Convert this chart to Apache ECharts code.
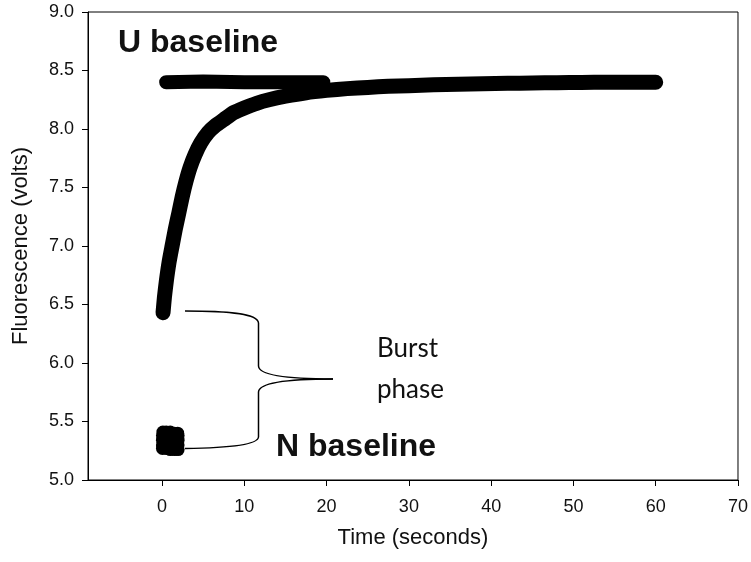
<!DOCTYPE html>
<html>
<head>
<meta charset="utf-8">
<script src="https://cdn.jsdelivr.net/npm/echarts@6/dist/echarts.min.js"></script>
<style>html,body{margin:0;padding:0;background:#fff}#c{width:751px;height:562px}</style>
</head>
<body>
<div id="c"></div>
<script>
// Refolding trace (seconds, volts)
const curveX = [0.12, 0.30, 0.54, 0.85, 1.22, 1.60, 2.03, 2.45, 2.90, 3.40, 4.00, 4.70, 5.60, 6.50, 7.50, 8.70, 10.0, 11.5, 13.0, 15.0, 17.5, 20.0, 22.5, 25.0, 27.5, 30.0, 33.0, 36.0, 39.0, 42.0, 45.0, 48.0, 51.0, 54.0, 57.0, 60.0];
const curveY = [6.43, 6.57, 6.71, 6.86, 7.00, 7.14, 7.28, 7.42, 7.55, 7.67, 7.78, 7.88, 7.97, 8.03, 8.08, 8.14, 8.18, 8.22, 8.25, 8.28, 8.31, 8.33, 8.345, 8.355, 8.365, 8.37, 8.378, 8.383, 8.387, 8.39, 8.393, 8.396, 8.398, 8.40, 8.40, 8.40];
// Unfolded baseline
const uBaseX = [0.5, 5.0, 10.0, 15.0, 19.6];
const uBaseY = [8.40, 8.405, 8.40, 8.40, 8.40];
// Native baseline cluster
const nBaseX = [0.05, 0.5, 1.0, 1.5, 1.95, 0.05, 0.5, 1.0, 1.5, 1.95, 0.05, 0.5, 1.0, 1.5, 1.95, 0.05, 0.5, 1.0, 1.5, 1.95, 0.1, 0.5, 1.0, 1.5, 1.9];
const nBaseY = [5.27, 5.27, 5.26, 5.26, 5.26, 5.30, 5.30, 5.30, 5.30, 5.30, 5.34, 5.34, 5.34, 5.34, 5.34, 5.38, 5.38, 5.38, 5.38, 5.38, 5.41, 5.41, 5.41, 5.40, 5.40];
const xTicks = [0, 10, 20, 30, 40, 50, 60, 70];
const labels = { u: 'U baseline', n: 'N baseline', burst1: 'Burst', burst2: 'phase', xName: 'Time (seconds)', yName: 'Fluorescence (volts)' };

const zip = (a, b) => a.map((v, i) => [v, b[i]]);
const font = "'Liberation Sans', Arial, sans-serif";
const braceStyle = { stroke: '#000', lineWidth: 1.5, fill: null };

const chart = echarts.init(document.getElementById('c'), null, { renderer: 'canvas' });
chart.setOption({
  animation: false,
  backgroundColor: '#fff',
  grid: { left: 88, right: 13, top: 12, bottom: 82, show: true, borderColor: '#000', borderWidth: 1 },
  xAxis: {
    type: 'value', min: -9, max: 70,
    name: labels.xName, nameLocation: 'middle', nameGap: 47, nameMoveOverlap: false,
    nameTextStyle: { fontFamily: font, fontSize: 22, color: '#111' },
    axisLine: { show: true, onZero: false, lineStyle: { color: '#000', width: 1 } },
    axisTick: { show: true, inside: false, length: 6, customValues: xTicks, lineStyle: { color: '#000' } },
    axisLabel: { customValues: xTicks, margin: 18, fontFamily: font, fontSize: 18, color: '#111' },
    splitLine: { show: false }
  },
  yAxis: {
    type: 'value', min: 5, max: 9, interval: 0.5,
    name: labels.yName, nameLocation: 'middle', nameGap: 56, nameMoveOverlap: false,
    nameTextStyle: { fontFamily: font, fontSize: 22, color: '#111' },
    axisLine: { show: true, onZero: false, lineStyle: { color: '#000', width: 1 } },
    axisTick: { show: true, inside: false, length: 6, lineStyle: { color: '#000' } },
    axisLabel: { margin: 14, fontFamily: font, fontSize: 18, color: '#111', formatter: v => v.toFixed(1) },
    splitLine: { show: false }
  },
  series: [
    { type: 'line', data: zip(uBaseX, uBaseY), showSymbol: false, smooth: false,
      lineStyle: { color: '#000', width: 14, cap: 'round', join: 'round' } },
    { type: 'line', data: zip(curveX, curveY), showSymbol: false, smooth: 0.2,
      lineStyle: { color: '#000', width: 15, cap: 'round', join: 'round' } },
    { type: 'scatter', data: zip(nBaseX, nBaseY), symbol: 'circle', symbolSize: 13,
      itemStyle: { color: '#000', opacity: 1 } }
  ],
  graphic: [
    { type: 'text', x: 118, y: 27, style: { text: labels.u, font: "bold 32px " + font, fill: '#111' } },
    { type: 'text', x: 276, y: 431, style: { text: labels.n, font: "bold 32px " + font, fill: '#111' } },
    { type: 'text', x: 377, y: 336, style: { text: labels.burst1, font: "26px Lato, 'Open Sans', sans-serif", fill: '#111' } },
    { type: 'text', x: 377, y: 377, style: { text: labels.burst2, font: "26px Lato, 'Open Sans', sans-serif", fill: '#111' } },
    { type: 'bezierCurve', shape: { x1: 185, y1: 311, cpx1: 225, cpy1: 311, cpx2: 258, cpy2: 313, x2: 258.5, y2: 323 }, style: braceStyle },
    { type: 'line', shape: { x1: 258.5, y1: 323, x2: 258.5, y2: 366 }, style: braceStyle },
    { type: 'bezierCurve', shape: { x1: 258.5, y1: 366, cpx1: 259, cpy1: 375, cpx2: 285, cpy2: 379, x2: 333, y2: 379 }, style: braceStyle },
    { type: 'bezierCurve', shape: { x1: 333, y1: 379, cpx1: 285, cpy1: 379, cpx2: 259, cpy2: 383, x2: 258.5, y2: 392 }, style: braceStyle },
    { type: 'line', shape: { x1: 258.5, y1: 392, x2: 258.5, y2: 437 }, style: braceStyle },
    { type: 'bezierCurve', shape: { x1: 258.5, y1: 437, cpx1: 258, cpy1: 445, cpx2: 225, cpy2: 448, x2: 185, y2: 448.5 }, style: braceStyle }
  ]
});
</script>
</body>
</html>
